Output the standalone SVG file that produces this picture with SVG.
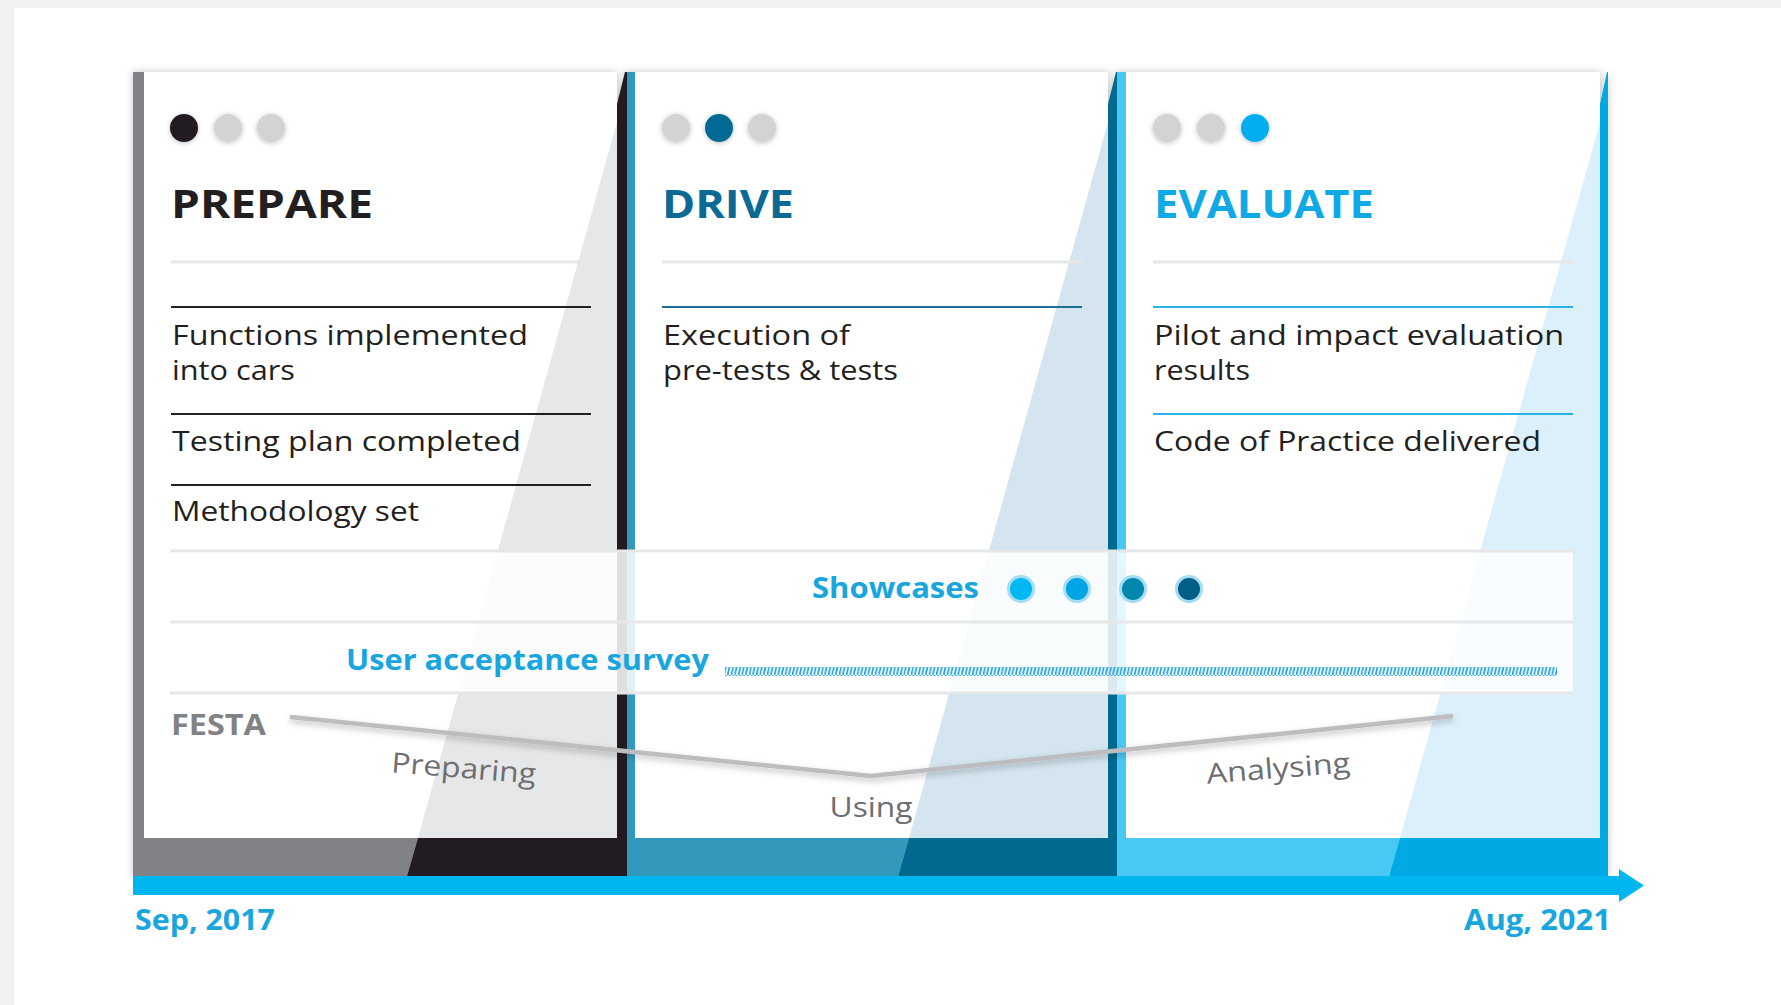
<svg xmlns="http://www.w3.org/2000/svg" width="1781" height="1005" viewBox="0 0 1781 1005">
<defs>
<style>
.body{font-family:"Open Sans","Noto Sans",sans-serif;font-size:28px;fill:#231f20}
.title{font-family:"Open Sans","Noto Sans",sans-serif;font-size:39px;font-weight:700}
.blue{font-family:"Open Sans","Noto Sans",sans-serif;font-size:29px;font-weight:700;fill:#19a6de}
.phase{font-family:"Open Sans","Noto Sans",sans-serif;font-size:28px;fill:#6d6e71}
.festa{font-family:"Open Sans","Noto Sans",sans-serif;font-size:29px;font-weight:700;fill:#808285}
.gline{stroke:#e6e7e8;stroke-width:3}
.white{fill:#ffffff}
</style>
<filter id="cardShadow" x="-5%" y="-5%" width="110%" height="110%">
<feDropShadow dx="0" dy="0" stdDeviation="4" flood-color="#000" flood-opacity="0.22"/>
</filter>
<filter id="dotShadow" x="-50%" y="-50%" width="200%" height="200%">
<feDropShadow dx="0" dy="1" stdDeviation="2.5" flood-color="#000" flood-opacity="0.25"/>
</filter>
<filter id="lineShadow" x="-5%" y="-50%" width="110%" height="200%">
<feDropShadow dx="0" dy="3" stdDeviation="3" flood-color="#000" flood-opacity="0.25"/>
</filter>
<pattern id="hatch" patternUnits="userSpaceOnUse" width="3.6" height="9">
<line x1="0.4" y1="9" x2="2.6" y2="0" stroke="#1fa3dc" stroke-width="1.7"/>
</pattern>
</defs>

<rect x="0" y="0" width="1781" height="1005" fill="#f1f1f1"/>
<rect x="14" y="8" width="1767" height="997" fill="#ffffff"/>

<!-- card backs -->
<g id="card-backs" filter="url(#cardShadow)">
  <g id="back-prepare">
    <polygon points="133,72 144,72 144,838 418,838 407,876 133,876" fill="#808285"/>
    <polygon points="418,838 617,838 617,104 625,72 627,72 627,876 407,876" fill="#231f20"/>
    <rect x="144" y="72" width="473" height="766" fill="#ffffff"/>
    <polygon points="617,122 617,838 418,838" fill="#e6e7e8"/>
  </g>
  <g id="back-drive" transform="translate(491,0)">
    <polygon points="136,72 144,72 144,838 418,838 407,876 136,876" fill="#3399bd"/>
    <polygon points="418,838 617,838 617,104 625,72 626,72 626,876 407,876" fill="#006990"/>
    <rect x="144" y="72" width="473" height="766" fill="#ffffff"/>
    <polygon points="617,122 617,838 418,838" fill="#d4e5ef"/>
  </g>
  <g id="back-evaluate" transform="translate(982,0)">
    <polygon points="135,72 144,72 144,838 418,838 407,876 135,876" fill="#48c8f4"/>
    <polygon points="418,838 618,838 618,104 625,72 626,72 626,876 407,876" fill="#00a8e4"/>
    <rect x="144" y="72" width="474" height="766" fill="#ffffff"/>
    <polygon points="618,122 618,838 418,838" fill="#dcf0fb"/>
  </g>
</g>

<!-- card contents -->
<g id="card-prepare">
  <circle cx="184" cy="128" r="14" fill="#231f20" filter="url(#dotShadow)"/>
  <circle cx="228" cy="128" r="14" fill="#d1d3d4" filter="url(#dotShadow)"/>
  <circle cx="271" cy="128" r="14" fill="#d1d3d4" filter="url(#dotShadow)"/>
  <text class="title" x="171" y="218" fill="#231f20" textLength="202" lengthAdjust="spacingAndGlyphs">PREPARE</text>
  <line class="gline" x1="171" y1="262" x2="591" y2="262"/>
  <line x1="171" y1="307" x2="591" y2="307" stroke="#231f20" stroke-width="2"/>
  <text class="body" x="172" y="345" textLength="356" lengthAdjust="spacingAndGlyphs">Functions implemented</text>
  <text class="body" x="172" y="380" textLength="123" lengthAdjust="spacingAndGlyphs">into cars</text>
  <line x1="171" y1="414" x2="591" y2="414" stroke="#231f20" stroke-width="2"/>
  <text class="body" x="172" y="451" textLength="349" lengthAdjust="spacingAndGlyphs">Testing plan completed</text>
  <line x1="171" y1="485" x2="591" y2="485" stroke="#231f20" stroke-width="2"/>
  <text class="body" x="172" y="521" textLength="247" lengthAdjust="spacingAndGlyphs">Methodology set</text>
</g>

<g id="card-drive">
  <circle cx="676" cy="128" r="14" fill="#d1d3d4" filter="url(#dotShadow)"/>
  <circle cx="719" cy="128" r="14" fill="#006a94" filter="url(#dotShadow)"/>
  <circle cx="762" cy="128" r="14" fill="#d1d3d4" filter="url(#dotShadow)"/>
  <text class="title" x="662" y="218" fill="#0b6a94" textLength="132" lengthAdjust="spacingAndGlyphs">DRIVE</text>
  <line class="gline" x1="662" y1="262" x2="1082" y2="262"/>
  <line x1="662" y1="307" x2="1082" y2="307" stroke="#1b6f95" stroke-width="2"/>
  <text class="body" x="663" y="345" textLength="187" lengthAdjust="spacingAndGlyphs">Execution of</text>
  <text class="body" x="663" y="380" textLength="235" lengthAdjust="spacingAndGlyphs">pre-tests &amp; tests</text>
</g>

<g id="card-evaluate">
  <circle cx="1167" cy="128" r="14" fill="#d1d3d4" filter="url(#dotShadow)"/>
  <circle cx="1211" cy="128" r="14" fill="#d1d3d4" filter="url(#dotShadow)"/>
  <circle cx="1255" cy="128" r="14" fill="#00aeef" filter="url(#dotShadow)"/>
  <text class="title" x="1154" y="218" fill="#0faae6" textLength="220" lengthAdjust="spacingAndGlyphs">EVALUATE</text>
  <line class="gline" x1="1153" y1="262" x2="1573" y2="262"/>
  <line x1="1153" y1="307" x2="1573" y2="307" stroke="#2bb3e6" stroke-width="2"/>
  <text class="body" x="1154" y="345" textLength="410" lengthAdjust="spacingAndGlyphs">Pilot and impact evaluation</text>
  <text class="body" x="1154" y="380" textLength="96" lengthAdjust="spacingAndGlyphs">results</text>
  <line x1="1153" y1="414" x2="1573" y2="414" stroke="#2bb3e6" stroke-width="2"/>
  <text class="body" x="1154" y="451" textLength="387" lengthAdjust="spacingAndGlyphs">Code of Practice delivered</text>
</g>

<!-- horizontal bands -->
<g id="bands">
  <rect x="170" y="551" width="1403" height="142" fill="#ffffff" fill-opacity="0.86"/>
  <line class="gline" x1="170" y1="551" x2="1573" y2="551"/>
  <line class="gline" x1="170" y1="622" x2="1573" y2="622"/>
  <line class="gline" x1="170" y1="693" x2="1573" y2="693"/>
</g>

<g id="showcases">
  <text class="blue" x="812" y="598" textLength="167" lengthAdjust="spacingAndGlyphs">Showcases</text>
  <circle cx="1021" cy="589" r="12.5" fill="#00b9f2" stroke="#a3dcf3" stroke-width="3"/>
  <circle cx="1077" cy="589" r="12.5" fill="#00a5e6" stroke="#a3dcf3" stroke-width="3"/>
  <circle cx="1133" cy="589" r="12.5" fill="#0087ae" stroke="#a3dcf3" stroke-width="3"/>
  <circle cx="1189" cy="589" r="12.5" fill="#005f86" stroke="#a3dcf3" stroke-width="3"/>
</g>

<g id="user-acceptance-survey">
  <text class="blue" x="346" y="670" textLength="363" lengthAdjust="spacingAndGlyphs">User acceptance survey</text>
  <rect x="725" y="667" width="832" height="9" fill="url(#hatch)"/>
</g>

<g id="festa">
  <text class="festa" x="171" y="735" textLength="95" lengthAdjust="spacingAndGlyphs">FESTA</text>
  <text class="phase" x="463" y="778" text-anchor="middle" textLength="145" lengthAdjust="spacingAndGlyphs" transform="rotate(4.5 463 778)">Preparing</text>
  <text class="phase" x="871" y="817" text-anchor="middle" textLength="83" lengthAdjust="spacingAndGlyphs">Using</text>
  <text class="phase" x="1279" y="778" text-anchor="middle" textLength="144" lengthAdjust="spacingAndGlyphs" transform="rotate(-4.5 1279 778)">Analysing</text>
</g>

<g id="connectors">
  <polyline points="290,717 871,776 1453,716" fill="none" stroke="#bdbdbf" stroke-width="4.5" stroke-linejoin="miter" filter="url(#lineShadow)"/>
  <g id="timeline">
    <rect x="133" y="876" width="1489" height="19" fill="#00b6ef"/>
    <polygon points="1619,869 1644,885.5 1619,902" fill="#00b6ef"/>
  </g>
</g>

<g id="dates">
  <text class="blue" x="135" y="930" font-size="30" textLength="140" lengthAdjust="spacingAndGlyphs">Sep, 2017</text>
  <text class="blue" x="1464" y="930" font-size="30" textLength="147" lengthAdjust="spacingAndGlyphs">Aug, 2021</text>
</g>
</svg>
